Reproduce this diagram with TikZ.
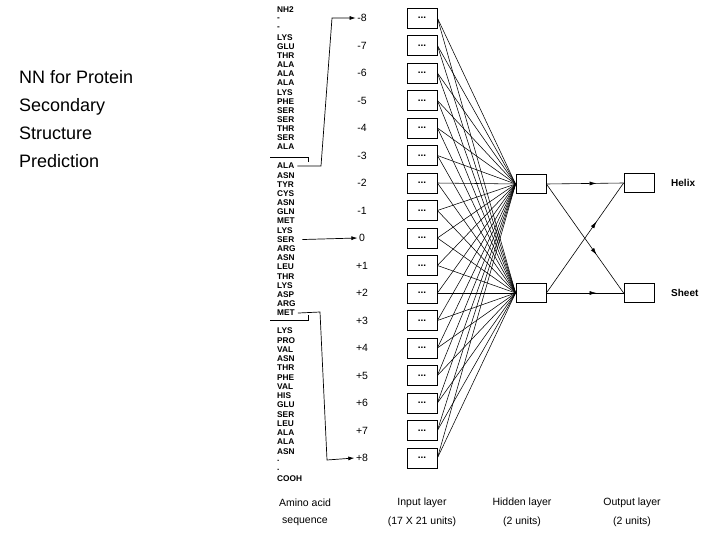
\documentclass[tikz,border=0pt]{standalone}
\usepackage{fontspec}
\setmainfont{Liberation Sans}
\usetikzlibrary{arrows.meta,decorations.markings}
\begin{document}
\begin{tikzpicture}[x=1pt,y=-1pt,
  seq/.style={anchor=west,font=\bfseries\fontsize{8.3}{8}\selectfont,inner sep=0pt},
  poslab/.style={font=\fontsize{10.5}{10}\selectfont,inner sep=1.5pt},
  inbox/.style={draw,thick,minimum width=30pt,minimum height=20pt,inner sep=0pt,font=\bfseries\fontsize{10}{9}\selectfont},
  unit/.style={draw,thick,minimum width=30pt,minimum height=19pt,inner sep=0pt},
  lab/.style={font=\fontsize{10.5}{10}\selectfont,inner sep=0pt},
  conn/.style={line width=0.55pt},
  arr/.style={-{Latex[length=6pt,width=4pt]},line width=0.7pt},
  midarr/.style={line width=0.6pt,postaction={decorate},decoration={markings,mark=at position 0.65 with {\arrow{Latex[length=7pt,width=4pt]}}}}]
\useasboundingbox (0,0) rectangle (720,540);
\node[anchor=north west,align=left,font=\fontsize{18}{28}\selectfont,inner sep=0pt] (title) at (19,70) {NN for Protein\\Secondary\\Structure\\Prediction};
% sequence
\foreach \t [count=\i] in {NH2,-,-,LYS,GLU,THR,ALA,ALA,ALA,LYS,PHE,SER,SER,THR,SER,ALA}
  \node[seq] (sa\i) at (277,{10+(\i-1)*9.13}) {\t};
\foreach \t [count=\i] in {ALA,ASN,TYR,CYS,ASN,GLN,MET,LYS,SER,ARG,ASN,LEU,THR,LYS,ASP,ARG,MET}
  \node[seq] (sb\i) at (277,{166+(\i-1)*9.19}) {\t};
\foreach \t [count=\i] in {LYS,PRO,VAL,ASN,THR,PHE,VAL,HIS,GLU,SER,LEU,ALA,ALA,ASN,.,.,COOH}
  \node[seq] (sc\i) at (277,{331+(\i-1)*9.25}) {\t};
% separators
\draw[conn] (270,157) -- (308,157) -- (308,162);
\draw[conn] (270,320) -- (308,320) -- (308,315);
% inputs
\foreach \l [count=\i] in {-8,-7,-6,-5,-4,-3,-2,-1,0,+1,+2,+3,+4,+5,+6,+7,+8}{
  \node[poslab] (p\i) at (362,{18+(\i-1)*27.5}) {\l};
  \node[inbox] (in\i) at (422,{18+(\i-1)*27.5}) {...};
}
\coordinate (c1) at (321,166);
\coordinate (c2) at (332,18);
\draw[arr] ([xshift=3pt]sb1.east) -- (c1) -- (c2) -- (p1.west);
\draw[arr] ([xshift=8pt]sb9.east) -- (p9.west);
\coordinate (c3) at (320,312);
\coordinate (c4) at (327,460);
\draw[arr] ([xshift=3pt]sb17.east) -- (c3) -- (c4) -- (p17.west);
% hidden and output
\node[unit] (h1) at (531,184) {};
\node[unit] (h2) at (531,293) {};
\node[unit] (o1) at (639,183) {};
\node[unit] (o2) at (639,293) {};
\foreach \i in {1,...,17}{
  \draw[conn] (in\i.east) -- (h1.west);
  \draw[conn] (in\i.east) -- (h2.west);
}
\draw[midarr] (h1.east) -- (o1.west);
\draw[midarr] (h1.east) -- (o2.west);
\draw[midarr] (h2.east) -- (o1.west);
\draw[midarr] (h2.east) -- (o2.west);
\node[lab,anchor=west,font=\bfseries\fontsize{10}{10}\selectfont] (hx) at (671,183) {Helix};
\node[lab,anchor=west,font=\bfseries\fontsize{10}{10}\selectfont] (sh) at (671,293) {Sheet};
% bottom labels
\node[lab] (b1) at (305,503) {Amino acid};
\node[lab] (b2) at (305,522) {sequence};
\node[lab] (b3) at (422,503) {Input layer};
\node[lab] (b4) at (422,522) {(17 X 21 units)};
\node[lab] (b5) at (522,503) {Hidden layer};
\node[lab] (b6) at (522,522) {(2 units)};
\node[lab] (b7) at (632,503) {Output layer};
\node[lab] (b8) at (632,522) {(2 units)};
\end{tikzpicture}
\end{document}
